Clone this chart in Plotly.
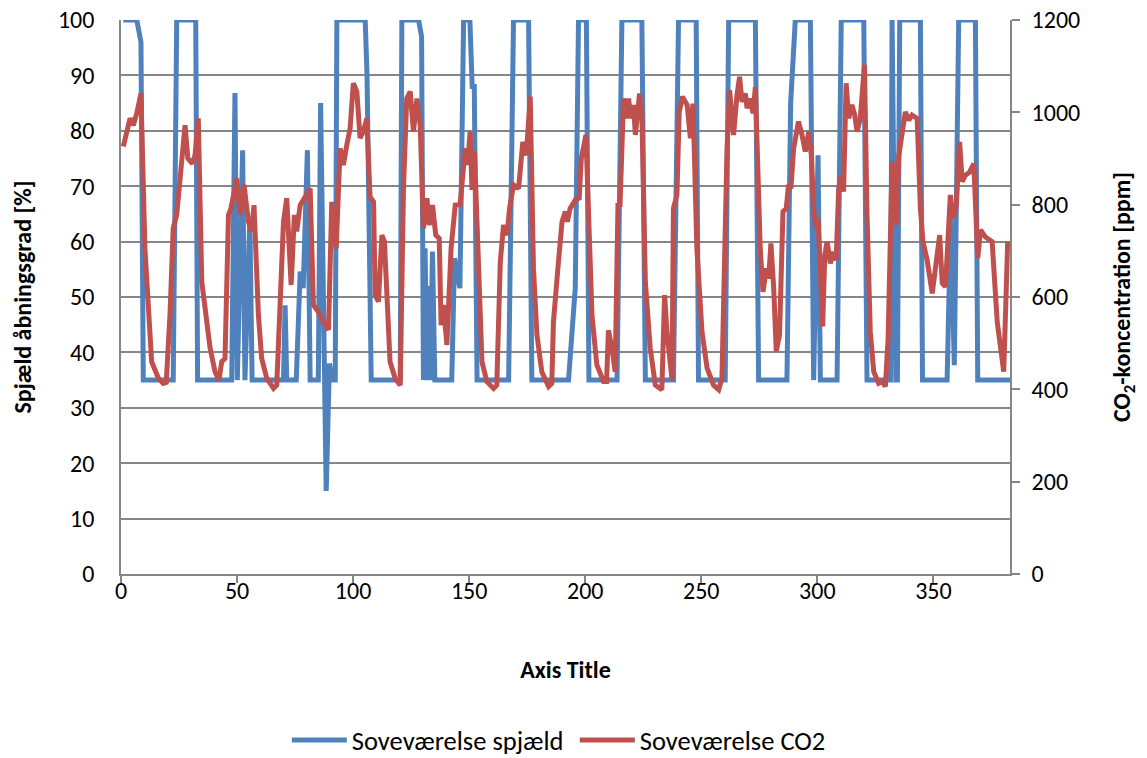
import plotly.graph_objects as go

# ---- data ----
spjaeld_x = [1, 6.8, 8.6, 9.6, 22.5, 24, 32.2, 33, 47.7, 49.1, 50.1, 52.4, 53.4, 55.5, 56.5,
             70, 70.7, 71.4, 75.5, 77.2, 78.5, 80.3, 81.5, 85, 86, 88.4, 89.8, 91, 92.3, 93,
             105.2, 106, 107.8, 120.3, 121, 128.2, 129.5, 130.3, 131, 131.8, 132.5, 133.2, 134.2, 135.2,
             142.5, 143.7, 146, 147.6, 150.3, 151.3, 152.2, 153.4, 167, 169.1, 175.6, 177,
             192.8, 195.7, 197.1, 200.5, 201.6, 213.7, 215.8, 224.4, 225.9, 238, 240.2, 247.8, 248.8,
             260.3, 261.8, 273.3, 274.7, 286.9, 288.5, 290.5, 297, 298.4, 300.3, 301.3, 308.5, 310.3,
             320, 321.4, 331.5, 332.2, 333.8, 334.5, 335.5, 344.4, 345.3, 355.9, 357.5, 359, 360.9,
             368.1, 369.1, 384]
spjaeld_pct = [100, 100, 96, 35, 35, 100, 100, 35, 35, 86.8, 35, 76.5, 35, 64, 35,
               35, 48.5, 35, 35, 54.6, 51.6, 76.5, 35, 35, 85, 15, 38, 35, 35, 100,
               100, 90, 35, 35, 100, 100, 97, 35, 58.8, 35, 52, 35, 58.2, 35,
               35, 57, 51.6, 100, 100, 88, 88, 35, 35, 100, 100, 35,
               35, 51.6, 100, 100, 35, 35, 100, 100, 35, 35, 100, 100, 35,
               35, 100, 100, 35, 35, 85, 100, 100, 35, 75.6, 35, 35, 100,
               100, 35, 35, 100, 35, 35, 100, 100, 35, 35, 65, 37.7, 100,
               100, 35, 35]

co2_x = [1, 3.9, 5.3, 6.8, 8.6, 10.3, 13.2, 16.1, 18.2, 19.5, 21.1, 22.5, 24, 25.4, 26.9, 27.6,
         28.8, 30.7, 31.9, 33.3, 34.8, 38.4, 40.5, 42.2, 43.4, 44.8, 46.3, 47.3, 49.9, 51.3, 53,
         54.9, 56.3, 57.3, 59.2, 60.6, 62.8, 65.7, 67.1, 68.5, 70, 71.4, 73.3, 74.7, 75.7, 77.2,
         79.3, 81.5, 82.9, 85, 87.2, 89.4, 90.8, 92.7, 94.4, 95.8, 97.3, 98.7, 100.1, 101.6, 103,
         104.4, 105.9, 107.3, 108.8, 109.5, 110.9, 112.4, 113.5, 114.5, 115.9, 118.1, 120.3, 121.7,
         123.1, 124.6, 126, 127.5, 128.9, 130.3, 131.8, 132.8, 134.2, 135.6, 137.1, 137.9, 138.9,
         140.4, 142.2, 144, 146.1, 148.3, 149.3, 150.4, 151.2, 152.3, 154, 155.5, 157.6, 160.5,
         161.9, 163.4, 164.8, 166.3, 167.4, 169.1, 171.3, 173.1, 174.6, 176.3, 177.7, 179.2, 181.3,
         184.2, 185.6, 186.3, 188.1, 190, 191.4, 192.3, 193.5, 195.7, 197.4, 198.3, 200.3, 201.4,
         202.9, 205, 207.9, 209.2, 210, 211.5, 212.9, 214.1, 215, 216.5, 218, 218.7, 219.5, 220.8,
         221.6, 223.4, 224.4, 225.9, 228, 230.2, 233, 234.2, 235.2, 237.4, 238, 239.5, 240.5, 241.9,
         243.9, 245.3, 246.4, 247, 248.1, 250.3, 252.5, 255.3, 257.5, 258.9, 261.1, 262.2, 263.9,
         265.4, 266.5, 267.5, 269, 269.7, 271.1, 272.3, 273.3, 275.4, 276.6, 278, 279, 280, 281.2,
         282.3, 283.7, 285.2, 286.6, 287.6, 288.6, 289.8, 291.9, 293.4, 294.8, 296.3, 297.4, 298.4,
         299.4, 300.3, 301.3, 302.3, 303.2, 304.2, 305.6, 306.8, 308.1, 309.2, 310.3, 311.3, 312.4,
         313.5, 314.9, 316.1, 317.1, 318.5, 320.3, 321.4, 322.8, 324.3, 326.4, 328.1, 329.3, 330.5,
         332.2, 334, 335.1, 336.5, 337.9, 339.4, 340.8, 343, 344.4, 345.5, 347.3, 349.5, 350.9,
         352.7, 353.8, 355.2, 357.3, 358.5, 359.9, 361.3, 362.4, 363.8, 365.5, 367.4, 369.1, 370.3,
         372.4, 375.3, 377.5, 380.3, 382]
co2_ppm = [926, 987, 972, 998, 1041, 706, 460, 424, 413, 415, 561, 749, 778, 850, 936, 972,
           900, 889, 907, 987, 633, 489, 438, 420, 460, 467, 778, 790, 857, 778, 843,
           763, 742, 799, 561, 467, 424, 402, 409, 561, 763, 814, 626, 778, 742, 799,
           817, 835, 583, 568, 546, 529, 806, 705, 922, 886, 930, 965, 1063, 1045, 944,
           958, 987, 817, 806, 604, 590, 734, 720, 583, 460, 424, 409, 835,
           1030, 1045, 958, 1030, 972, 749, 814, 756, 799, 734, 727, 539, 583,
           496, 705, 799, 800, 922, 886, 958, 832, 915, 633, 460, 417, 402,
           409, 676, 756, 734, 792, 843, 835, 936, 907, 1034, 662, 518, 438,
           406, 413, 546, 655, 763, 785, 763, 792, 810, 814, 900, 951, 749,
           561, 453, 417, 417, 528, 489, 438, 799, 800, 1030, 987, 1030, 987, 1016,
           951, 1041, 994, 633, 489, 409, 399, 604, 525, 420, 792, 821, 1001, 1034,
           1016, 944, 1019, 915, 705, 525, 446, 409, 399, 424, 922, 1048, 951,
           1038, 1077, 1023, 1041, 1009, 1030, 998, 1055, 705, 611, 662, 640, 716, 619,
           482, 518, 785, 792, 843, 835, 922, 980, 951, 915, 958, 907, 792,
           749, 770, 633, 536, 691, 720, 673, 698, 680, 835, 864, 828, 1063,
           987, 1016, 994, 958, 987, 1103, 778, 525, 438, 413, 417, 406, 511,
           893, 756, 907, 958, 1001, 983, 994, 987, 792, 720, 680, 608, 673,
           734, 630, 622, 821, 770, 799, 936, 850, 864, 870, 889, 684, 745,
           730, 720, 546, 438, 720]

x_ticks = [0, 50, 100, 150, 200, 250, 300, 350]
pct_ticks = list(range(0, 101, 10))
ppm_ticks = list(range(0, 1201, 200))

FONT = "Carlito, Calibri, Lato, 'Liberation Sans', sans-serif"
GRID = "#868686"

fig = go.Figure()
fig.add_trace(go.Scatter(x=spjaeld_x, y=spjaeld_pct, mode="lines", name="Soveværelse spjæld",
                         line=dict(color="#4F81BD", width=5), yaxis="y"))
fig.add_trace(go.Scatter(x=co2_x, y=co2_ppm, mode="lines", name="Soveværelse CO2",
                         line=dict(color="#C0504D", width=5), yaxis="y2"))

# page body has an 8px default margin -> figure is 8px smaller than the window
fig.update_layout(
    width=1139, height=750,
    margin=dict(l=113, r=137, t=12, b=184, autoexpand=False),
    paper_bgcolor="white", plot_bgcolor="white",
    font=dict(family=FONT, size=24, color="black"),
    xaxis=dict(range=[0, 383], tickvals=x_ticks, showgrid=False, zeroline=False,
               showline=True, linecolor=GRID, linewidth=1.5,
               ticks="outside", ticklen=7, tickcolor=GRID, tickwidth=1.5,
               ticklabelstandoff=-13, automargin=False, ticklabeloverflow="allow",
               title=dict(text="<b>Axis Title</b>", standoff=58, font=dict(size=24))),
    yaxis=dict(range=[0, 100], tickvals=pct_ticks, showgrid=True, gridcolor=GRID, gridwidth=1.5,
               zeroline=False, showline=True, linecolor=GRID, linewidth=1.5, ticks="",
               ticklabelstandoff=20, automargin=False, ticklabeloverflow="allow",
               title=dict(text="<b>Spjæld åbningsgrad [%]</b>", standoff=34, font=dict(size=24))),
    yaxis2=dict(range=[0, 1200], tickvals=ppm_ticks, overlaying="y", side="right",
                showgrid=False, zeroline=False, showline=True, linecolor=GRID, linewidth=1.5,
                ticks="outside", ticklen=8, tickcolor=GRID, tickwidth=1.5,
                ticklabelstandoff=7, automargin=False, ticklabeloverflow="allow",
                title=dict(text="<b>CO<sub>2</sub>-koncentration [ppm]</b>", standoff=34,
                           font=dict(size=24))),
    legend=dict(orientation="h", x=0.5105, xanchor="center", y=-0.30, yanchor="middle",
                font=dict(size=26.5), tracegroupgap=0, itemwidth=55,
                entrywidth=218, entrywidthmode="pixels"),
    showlegend=True,
)

fig.write_html("out.html")
